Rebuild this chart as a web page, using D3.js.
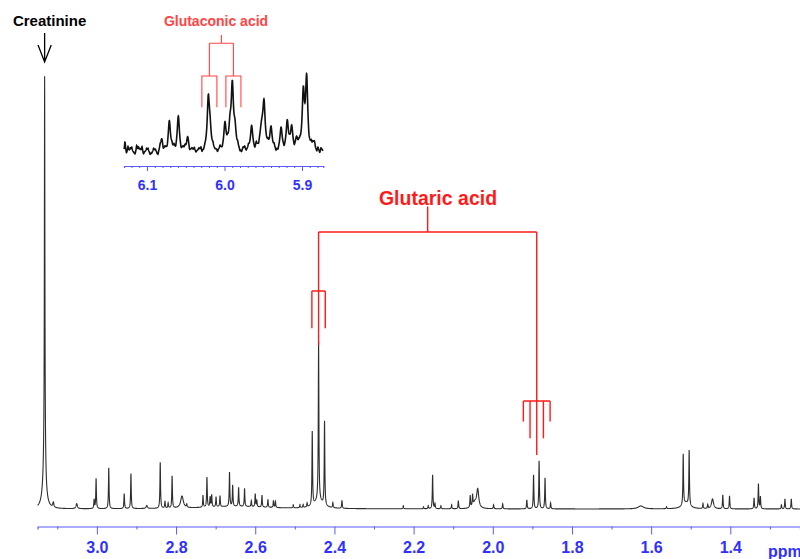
<!DOCTYPE html>
<html>
<head>
<meta charset="utf-8">
<script src="https://cdn.jsdelivr.net/npm/d3@7"></script>
<style>
  body { margin: 0; background: #fff; }
  svg { display: block; font-family: "Liberation Sans", Arial, sans-serif; }
</style>
</head>
<body>
<script>
// main spectrum lines: [ppm, intensity, half-width (optional)]
const mainPeaks = [
  [3.132, 330, 0.0007], [3.1318, 75, 0.0016], [3.133, 30, 0.005],
  [3.110, 5, 0.0015], [3.051, 5, 0.002],
  [3.007, 9], [3.002, 30], [2.970, 41], [2.931, 15], [2.914, 35], [2.874, 3, 0.002],
  [2.840, 46], [2.828, 7], [2.820, 5], [2.810, 32], [2.785, 12, 0.004], [2.773, 3],
  [2.732, 12], [2.722, 30], [2.714, 10], [2.710, 12], [2.699, 10], [2.689, 11],
  [2.665, 34], [2.657, 21], [2.642, 19], [2.627, 18], [2.610, 6], [2.600, 13],
  [2.596, 6], [2.583, 12], [2.568, 8], [2.554, 7], [2.549, 6],
  [2.504, 3], [2.487, 3], [2.479, 3], [2.469, 4],
  [2.456, 74], [2.440, 158], [2.425, 84], [2.440, 8, 0.012],
  [2.404, 5], [2.381, 8],
  [2.226, 3], [2.175, 2], [2.163, 3], [2.152, 34], [2.146, 5], [2.131, 3],
  [2.104, 4], [2.087, 8], [2.057, 12], [2.051, 11], [2.038, 18, 0.003], [2.045, 6, 0.006],
  [1.998, 4], [1.975, 5],
  [1.914, 9], [1.897, 34], [1.883, 48], [1.868, 31], [1.854, 6],
  [1.626, 3, 0.008], [1.561, 2],
  [1.519, 51], [1.504, 55], [1.512, 6, 0.01],
  [1.469, 5], [1.457, 4], [1.445, 10, 0.003], [1.419, 14], [1.402, 13],
  [1.340, 11], [1.329, 25], [1.324, 12],
  [1.271, 4], [1.262, 10], [1.246, 10],
  [2.65, 2.5, 0.1]
];

// inset (olefinic region) lines
const insetPeaks = [
  [6.081, 12], [6.0712, 30], [6.0596, 35], [6.0475, 14],
  [6.0209, 50], [6.0187, 18],
  [5.9994, 26], [5.9929, 20], [5.9899, 62], [5.9865, 18],
  [5.965, 24], [5.952, 22, 0.003], [5.949, 40],
  [5.940, 22], [5.927, 22], [5.919, 28], [5.9133, 22], [5.907, 10],
  [5.8983, 55], [5.894, 70], [5.884, 8]
];

// small wiggles of the inset trace
const insetNoise = [
  [6.1284, 10], [6.1265, -3], [6.1245, 5], [6.1215, 3], [6.1197, 4], [6.117, -1],
  [6.1155, -3], [6.1133, 6], [6.111, 4], [6.109, 2], [6.1065, 5], [6.1045, -3],
  [6.1026, 0], [6.1005, 3], [6.0987, 3], [6.096, -3], [6.094, -2], [6.0915, 3],
  [6.0893, 2], [6.087, -2], [6.0858, -4], [6.083, 3], [6.079, -3], [6.0768, 2],
  [6.074, -3], [6.068, 3], [6.0652, 3], [6.063, -3], [6.056, -3], [6.0535, 2],
  [6.051, 3], [6.045, -3], [6.042, 2], [6.039, 3], [6.0368, -2], [6.033, 2],
  [6.0305, 3], [6.029, -3], [6.027, -2], [6.025, 1], [6.015, 3], [6.0123, -1],
  [6.009, -3], [6.0058, 3], [6.003, -2], [5.996, 3], [5.983, 3], [5.980, -3],
  [5.978, -3], [5.976, 2], [5.974, 3], [5.972, -2], [5.969, 3], [5.961, -3],
  [5.959, 4], [5.956, -3], [5.944, 3], [5.936, 3], [5.9335, -3], [5.931, -3],
  [5.923, -3], [5.916, 3], [5.910, -3], [5.904, 3], [5.9026, 3], [5.891, -3],
  [5.888, 4], [5.886, 3], [5.8826, -2], [5.881, -3], [5.8794, 3], [5.877, -3],
  [5.8755, 3], [5.8742, 1]
];

const mainTicks = [3.0, 2.8, 2.6, 2.4, 2.2, 2.0, 1.8, 1.6, 1.4];
const mainMinorTicks = [3.1, 2.9, 2.7, 2.5, 2.3, 2.1, 1.9, 1.7, 1.5, 1.3];
const insetTicks = [6.1, 6.0, 5.9];

// glutaric acid multiplets: centre, number of lines, line spacing
const glutaricGroups = [
  { ppm: 2.440, lines: 3, top: 158 },
  { ppm: 1.889, lines: 5, top: 48 }
];
const glutaricSpacing = 0.0169;

// glutaconic acid doublet of doublets
const glutaconicCentres = [6.0195, 5.9885];
const glutaconicSpacing = 0.0097;

const width = 800, height = 559;
const red = "#ff1a1a", blue = "#3030ff", axisBlue = "#5a5aff";

const svg = d3.select("body").append("svg")
  .attr("width", width).attr("height", height);

const lorentz = (list, g0) => p =>
  d3.sum(list, ([c, h, g]) => {
    const w = g || g0;
    return h * w * w / ((p - c) * (p - c) + w * w);
  });

function sampleSpectrum(domain, step, peaks, g0, extra) {
  const f = lorentz(peaks, g0);
  const f2 = extra ? lorentz(extra, 0.0008) : () => 0;
  const pts = d3.range(domain[1], domain[0], step).concat(peaks.map(d => d[0]));
  return pts.filter(p => p >= domain[1] && p <= domain[0])
    .sort((a, b) => b - a)
    .map(p => [p, f(p) + f2(p)]);
}

// ---------- main spectrum ----------
const x = d3.scaleLinear().domain([3.150, 1.224]).range([37.5, 800]);
const y = d3.scaleLinear().domain([0, 440]).range([509, 69]);

const mainData = sampleSpectrum(x.domain(), 0.0002, mainPeaks, 0.0009);

svg.append("path")
  .datum(mainData)
  .attr("fill", "none")
  .attr("stroke", "#2e2e2e")
  .attr("stroke-width", 1.1)
  .attr("d", d3.line().x(d => x(d[0])).y(d => y(d[1])));

const axisY = 526.5;
const gx = svg.append("g").attr("transform", `translate(0,${axisY})`);
gx.call(d3.axisBottom(x).tickValues(mainTicks).tickSize(8).tickPadding(7)
  .tickFormat(d3.format(".1f")));
gx.append("g").call(d3.axisBottom(x).tickValues(mainMinorTicks).tickSize(3).tickFormat(""));
gx.selectAll("path.domain").attr("stroke", axisBlue).attr("stroke-width", 1.2);
gx.selectAll(".tick line").attr("stroke", axisBlue);
gx.selectAll(".tick text")
  .attr("fill", blue).style("font-size", "16px").style("font-weight", "bold")
  .style("font-family", "Liberation Sans, Arial, sans-serif");
gx.select("g path.domain").remove();

svg.append("text")
  .attr("x", 768).attr("y", 556.5)
  .attr("fill", blue).style("font-size", "16px").style("font-weight", "bold")
  .text("ppm");

// creatinine label + arrow
const cx = x(3.1320);
svg.append("text")
  .attr("x", cx + 5).attr("y", 25.5).attr("text-anchor", "middle")
  .style("font-size", "15px").style("font-weight", "bold").attr("fill", "#000")
  .text("Creatinine");
svg.append("path")
  .attr("d", `M${cx},33V62M${cx - 6.6},45L${cx},62L${cx + 6.6},45`)
  .attr("fill", "none").attr("stroke", "#000").attr("stroke-width", 1.3);

// glutaric acid annotation
const gA = svg.append("g").attr("fill", "none").attr("stroke", red).attr("stroke-width", 1.4);
const barY = 232;
const gxs = glutaricGroups.map(g => x(g.ppm));
gA.append("path").attr("d", `M${gxs[0]},${barY}H${gxs[1]}M${(gxs[0] + gxs[1]) / 2},${barY}V206.5`);
glutaricGroups.forEach(g => {
  const c = x(g.ppm);
  const bottom = y(g.top) - 6;
  const bar = bottom - 54;
  const half = (g.lines - 1) / 2;
  const lo = x(g.ppm + half * glutaricSpacing), hi = x(g.ppm - half * glutaricSpacing);
  gA.append("path").attr("d", `M${c},${barY}V${bar}M${lo},${bar}H${hi}`);
  d3.range(g.lines).forEach(i => {
    const k = Math.abs(i - half);
    const lx = x(g.ppm + (i - half) * glutaricSpacing);
    gA.append("path").attr("d", `M${lx},${bar}V${bottom - k * 16.7}`);
  });
});
svg.append("text")
  .attr("x", 438).attr("y", 205).attr("text-anchor", "middle")
  .attr("fill", red).style("font-size", "19.5px").style("font-weight", "bold")
  .text("Glutaric acid");

// ---------- inset ----------
const xi = d3.scaleLinear().domain([6.1297, 5.8725]).range([124, 323.3]);
const yi = d3.scaleLinear().domain([0, 100]).range([152, 52]);

const insetData = sampleSpectrum(xi.domain(), 0.0002, insetPeaks, 0.0017, insetNoise);
svg.append("path")
  .datum(insetData)
  .attr("fill", "none")
  .attr("stroke", "#111")
  .attr("stroke-width", 1.6)
  .attr("d", d3.line().x(d => xi(d[0])).y(d => yi(d[1])));

const insetAxisY = 166;
const gi = svg.append("g").attr("transform", `translate(0,${insetAxisY})`);
gi.call(d3.axisBottom(xi).tickValues(insetTicks).tickSize(5).tickPadding(9)
  .tickFormat(d3.format(".1f")));
gi.append("g").call(d3.axisBottom(xi)
  .tickValues(d3.range(6.12, 5.87, -0.01).filter(v => Math.abs(v * 10 - Math.round(v * 10)) > 0.01))
  .tickSize(2).tickFormat(""));
gi.selectAll("path.domain").attr("stroke", axisBlue).attr("stroke-width", 1.2);
gi.selectAll(".tick line").attr("stroke", axisBlue);
gi.selectAll(".tick text")
  .attr("fill", blue).style("font-size", "14px").style("font-weight", "bold")
  .style("font-family", "Liberation Sans, Arial, sans-serif");
gi.select("g path.domain").remove();

// glutaconic acid annotation
const pink = "#ff4545";
const gC = svg.append("g").attr("fill", "none").attr("stroke", pink).attr("stroke-width", 1.1);
const cxs = glutaconicCentres.map(c => xi(c));
gC.append("path").attr("d", `M${cxs[0]},43.3H${cxs[1]}M${(cxs[0] + cxs[1]) / 2},43.3V35`);
glutaconicCentres.forEach(c => {
  const a = xi(c + glutaconicSpacing), b = xi(c - glutaconicSpacing);
  gC.append("path").attr("d", `M${xi(c)},43.3V76M${a},107.3V76H${b}V107.3`);
});
svg.append("text")
  .attr("x", 216).attr("y", 26).attr("text-anchor", "middle")
  .attr("fill", pink).style("font-size", "14px").style("font-weight", "bold")
  .text("Glutaconic acid");
</script>
</body>
</html>
